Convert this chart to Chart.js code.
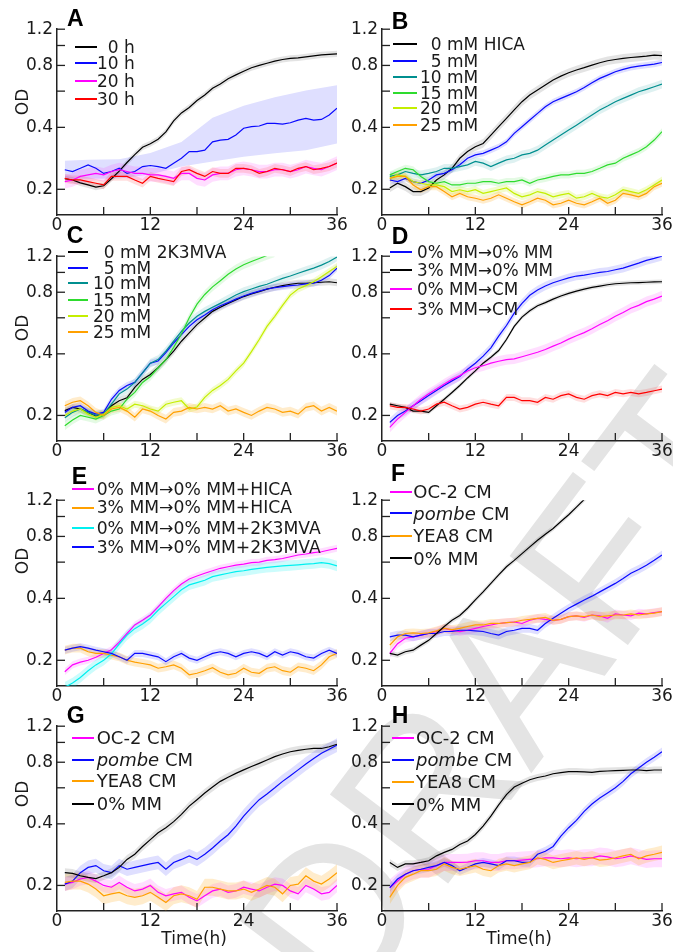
<!DOCTYPE html>
<html><head><meta charset="utf-8">
<script src="https://cdn.jsdelivr.net/npm/chart.js@4.4.1/dist/chart.umd.min.js"></script>
<style>
html,body{margin:0;padding:0;background:#fff;}
#wrap{position:relative;width:673px;height:952px;overflow:hidden;background:#fff;font-family:'DejaVu Sans',sans-serif;color:#1a1a1a;}
canvas{position:absolute;z-index:1;}
.lab{position:absolute;z-index:3;white-space:nowrap;}
.seg{position:absolute;z-index:4;height:0;border-top-width:2px;border-top-style:solid;}
.letter{position:absolute;z-index:3;font-family:'Liberation Sans',Arial,sans-serif;font-weight:bold;font-size:23px;line-height:23px;color:#000;}
.od{position:absolute;z-index:3;width:40px;height:20px;line-height:20px;text-align:center;font-size:17px;transform:rotate(-90deg);}
.xt{position:absolute;z-index:3;width:100px;text-align:center;font-size:17px;line-height:17px;}
#wm{position:absolute;z-index:0;font-family:'Liberation Sans',Arial,sans-serif;font-size:215px;line-height:215px;color:#e4e4e4;white-space:nowrap;transform-origin:center center;}
</style></head><body><div id="wrap"><div id="wm">DRAFT</div></div>
<script>
// ---------- data ----------
const T = [1,2,3,4,5,6,7,8,9,10,11,12,13,14,15,16,17,18,19,20,21,22,23,24,25,26,27,28,29,30,31,32,33,34,35,36];
const X_TICKS = [0,12,24,36];
const X_MARKS = [6,12,18,24,30,36];
const Y_TICKS = [0.2,0.4,0.6,0.8,1.0,1.2];
const Y_TICK_LABELS = ['0.2','0.4','','0.8','','1.2'];

// Panel A
const A_LABELS = ['\u20070 h','10 h','20 h','30 h'];
const A_0h  = [0.225,0.222,0.215,0.210,0.205,0.208,0.225,0.245,0.270,0.295,0.320,0.333,0.350,0.380,0.430,0.470,0.500,0.540,0.575,0.620,0.650,0.690,0.720,0.750,0.780,0.800,0.820,0.840,0.855,0.865,0.870,0.880,0.890,0.900,0.905,0.910];
const A_10h = [0.249,0.244,0.253,0.263,0.253,0.239,0.244,0.253,0.239,0.244,0.258,0.261,0.258,0.253,0.268,0.283,0.305,0.305,0.310,0.340,0.347,0.350,0.367,0.396,0.403,0.406,0.418,0.418,0.415,0.421,0.434,0.442,0.434,0.437,0.459,0.495];
const A_20h = [0.218,0.222,0.231,0.235,0.239,0.235,0.244,0.249,0.244,0.239,0.239,0.235,0.235,0.231,0.226,0.239,0.239,0.226,0.222,0.235,0.239,0.239,0.249,0.253,0.249,0.244,0.244,0.249,0.249,0.244,0.249,0.258,0.253,0.249,0.258,0.268];
const A_30h = [0.226,0.222,0.222,0.218,0.214,0.210,0.231,0.231,0.231,0.222,0.214,0.231,0.226,0.222,0.218,0.244,0.249,0.239,0.231,0.244,0.239,0.239,0.253,0.253,0.249,0.239,0.244,0.253,0.249,0.244,0.253,0.258,0.249,0.253,0.258,0.268];
const A_10h_BT = [1,4,8,12,16,20,24,28,32,36];
const A_10h_HI = [0.275,0.278,0.280,0.300,0.340,0.445,0.510,0.560,0.605,0.640];
const A_10h_LO = [0.225,0.225,0.226,0.236,0.258,0.273,0.288,0.299,0.310,0.334];
const A_SD = [0.035,0,0.08,0.05];

// Panel B
const B_LABELS = ['\u20070 mM HICA','\u20075 mM','10 mM','15 mM','20 mM','25 mM'];
const B_0  = [0.203,0.214,0.206,0.195,0.195,0.203,0.222,0.235,0.253,0.283,0.305,0.322,0.334,0.367,0.403,0.442,0.486,0.533,0.574,0.607,0.642,0.679,0.710,0.737,0.760,0.780,0.803,0.824,0.843,0.855,0.865,0.874,0.881,0.888,0.898,0.893];
const B_5  = [0.222,0.218,0.226,0.218,0.214,0.222,0.235,0.239,0.249,0.263,0.283,0.294,0.299,0.310,0.322,0.340,0.374,0.403,0.434,0.468,0.504,0.533,0.553,0.574,0.596,0.625,0.659,0.692,0.718,0.745,0.766,0.783,0.794,0.803,0.812,0.827];
const B_10 = [0.231,0.235,0.244,0.239,0.235,0.239,0.244,0.253,0.253,0.258,0.263,0.273,0.268,0.258,0.268,0.278,0.283,0.294,0.299,0.310,0.328,0.347,0.367,0.388,0.410,0.434,0.459,0.486,0.508,0.533,0.553,0.574,0.596,0.612,0.630,0.649];
const B_15 = [0.235,0.244,0.253,0.249,0.231,0.218,0.214,0.218,0.210,0.210,0.214,0.214,0.218,0.218,0.214,0.218,0.218,0.222,0.214,0.222,0.226,0.231,0.235,0.235,0.239,0.239,0.244,0.253,0.263,0.268,0.283,0.294,0.305,0.322,0.347,0.381];
const B_20 = [0.226,0.235,0.231,0.218,0.214,0.210,0.210,0.206,0.195,0.199,0.195,0.199,0.191,0.195,0.199,0.203,0.191,0.184,0.188,0.195,0.191,0.184,0.188,0.191,0.181,0.184,0.191,0.184,0.181,0.188,0.199,0.195,0.191,0.199,0.210,0.222];
const B_25 = [0.226,0.231,0.231,0.210,0.199,0.206,0.206,0.195,0.184,0.191,0.184,0.181,0.177,0.181,0.188,0.181,0.174,0.168,0.174,0.181,0.177,0.168,0.171,0.177,0.171,0.168,0.174,0.181,0.171,0.177,0.191,0.188,0.184,0.191,0.206,0.214];
const B_SD = [0.05,0.035,0.05,0.04,0.04,0.04];

// Panel C
const C_LABELS = ['\u20070 mM 2K3MVA','\u20075 mM','10 mM','15 mM','20 mM','25 mM'];
const C_0  = [0.211,0.219,0.215,0.207,0.199,0.203,0.223,0.236,0.244,0.274,0.300,0.317,0.342,0.375,0.412,0.461,0.506,0.556,0.599,0.645,0.676,0.706,0.734,0.762,0.785,0.806,0.828,0.846,0.862,0.875,0.885,0.885,0.890,0.895,0.900,0.890];
const C_5  = [0.207,0.219,0.223,0.210,0.203,0.207,0.240,0.265,0.280,0.290,0.323,0.360,0.369,0.405,0.452,0.497,0.545,0.587,0.620,0.657,0.687,0.712,0.740,0.767,0.790,0.810,0.830,0.843,0.852,0.862,0.868,0.878,0.885,0.915,0.965,1.050];
const C_10 = [0.195,0.207,0.215,0.207,0.200,0.203,0.227,0.255,0.269,0.290,0.323,0.360,0.375,0.412,0.461,0.515,0.566,0.610,0.645,0.675,0.706,0.740,0.775,0.805,0.830,0.855,0.875,0.905,0.935,0.960,0.990,1.020,1.050,1.085,1.130,1.190];
const C_15 = [0.178,0.190,0.200,0.196,0.192,0.200,0.210,0.215,0.240,0.259,0.290,0.310,0.342,0.375,0.430,0.500,0.600,0.700,0.780,0.850,0.910,0.980,1.040,1.090,1.130,1.170,1.210,1.250,null,null,null,null,null,null,null,null];
const C_20 = [0.200,0.210,0.215,0.203,0.196,0.203,0.219,0.223,0.215,0.227,0.223,0.215,0.210,0.227,0.232,0.236,0.215,0.220,0.245,0.265,0.280,0.300,0.330,0.360,0.410,0.470,0.545,0.610,0.690,0.775,0.830,0.862,0.900,0.952,1.010,1.070];
const C_25 = [0.223,0.232,0.236,0.223,0.207,0.200,0.215,0.219,0.210,0.196,0.215,0.210,0.200,0.192,0.207,0.210,0.219,0.215,0.219,0.215,0.223,0.210,0.215,0.207,0.200,0.210,0.219,0.215,0.207,0.210,0.203,0.219,0.223,0.210,0.219,0.210];
const C_SD = [0.04,0.04,0.05,0.05,0.04,0.05];

// Panel D
const D_LABELS = ['0% MM\u21920% MM','3% MM\u21920% MM','0% MM\u2192CM','3% MM\u2192CM'];
const D_00  = [0.185,0.200,0.210,0.223,0.236,0.250,0.265,0.280,0.295,0.310,0.336,0.360,0.390,0.428,0.488,0.550,0.632,0.706,0.773,0.820,0.858,0.890,0.915,0.940,0.960,0.970,0.985,1.000,1.010,1.030,1.050,1.080,1.110,1.145,1.170,1.200];
const D_30  = [0.227,0.223,0.219,0.210,0.210,0.207,0.223,0.240,0.259,0.280,0.305,0.330,0.360,0.385,0.415,0.470,0.545,0.605,0.650,0.687,0.712,0.740,0.767,0.790,0.810,0.828,0.845,0.857,0.870,0.880,0.885,0.890,0.892,0.895,0.898,0.900];
const D_0CM = [0.175,0.192,0.207,0.223,0.240,0.255,0.269,0.285,0.300,0.313,0.330,0.342,0.350,0.360,0.368,0.375,0.378,0.387,0.397,0.407,0.420,0.436,0.452,0.472,0.490,0.508,0.530,0.556,0.580,0.610,0.637,0.668,0.690,0.720,0.740,0.767];
const D_3CM = [0.223,0.219,0.219,0.215,0.210,0.215,0.227,0.232,0.223,0.215,0.219,0.227,0.232,0.227,0.223,0.245,0.245,0.236,0.236,0.232,0.245,0.240,0.250,0.255,0.245,0.240,0.250,0.255,0.250,0.259,0.255,0.259,0.255,0.259,0.264,0.269];
const D_SD = [0.05,0.025,0.06,0.04];

// Panel E
const E_LABELS = ['0% MM\u21920% MM+HICA','3% MM\u21920% MM+HICA','0% MM\u21920% MM+2K3MVA','3% MM\u21920% MM+2K3MVA'];
const E_0H = [0.176,0.190,0.196,0.200,0.207,0.216,0.225,0.245,0.270,0.297,0.313,0.332,0.364,0.400,0.436,0.470,0.497,0.514,0.530,0.545,0.560,0.570,0.580,0.587,0.597,0.600,0.612,0.617,0.625,0.637,0.650,0.657,0.667,0.674,0.687,0.700];
const E_3H = [0.224,0.229,0.229,0.220,0.216,0.216,0.212,0.208,0.200,0.196,0.193,0.190,0.183,0.186,0.190,0.183,0.170,0.173,0.178,0.184,0.175,0.170,0.173,0.183,0.175,0.173,0.183,0.186,0.178,0.175,0.186,0.183,0.178,0.190,0.208,0.216];
const E_0K = [0.148,0.155,0.165,0.178,0.190,0.200,0.215,0.240,0.265,0.285,0.300,0.320,0.350,0.378,0.408,0.440,0.465,0.477,0.490,0.510,0.520,0.530,0.540,0.545,0.553,0.560,0.566,0.570,0.575,0.578,0.582,0.587,0.590,0.597,0.590,0.575];
const E_3K = [0.224,0.229,0.233,0.229,0.224,0.220,0.216,0.208,0.200,0.216,0.216,0.212,0.208,0.197,0.208,0.216,0.205,0.200,0.208,0.216,0.220,0.216,0.208,0.216,0.220,0.216,0.208,0.220,0.212,0.220,0.216,0.208,0.205,0.216,0.224,0.216];
const E_SD = [0.04,0.05,0.06,0.04];

// Panels F, G, H
const FGH_LABELS = ['OC-2 CM','<i>pombe</i> CM','YEA8 CM','0% MM'];
const F_OC = [0.216,0.241,0.256,0.260,0.265,0.270,0.276,0.286,0.280,0.276,0.280,0.286,0.292,0.297,0.302,0.305,0.307,0.302,0.313,0.320,0.316,0.313,0.316,0.326,0.329,0.323,0.332,0.329,0.320,0.336,0.332,0.329,0.339,0.336,0.341,0.345];
const F_PO = [0.260,0.265,0.265,0.260,0.265,0.270,0.270,0.276,0.276,0.280,0.280,0.278,0.276,0.270,0.265,0.276,0.280,0.286,0.286,0.280,0.302,0.320,0.339,0.358,0.375,0.393,0.410,0.430,0.451,0.473,0.500,0.530,0.553,0.580,0.612,0.650];
const F_YE = [0.237,0.260,0.270,0.272,0.270,0.272,0.278,0.286,0.282,0.286,0.292,0.297,0.297,0.302,0.302,0.305,0.307,0.313,0.316,0.320,0.323,0.313,0.316,0.326,0.329,0.326,0.332,0.326,0.329,0.332,0.332,0.336,0.332,0.336,0.339,0.345];
const F_MM = [0.216,0.212,0.220,0.224,0.237,0.250,0.270,0.292,0.313,0.330,0.358,0.393,0.430,0.473,0.520,0.570,0.612,0.660,0.712,0.767,0.820,0.875,0.945,1.020,1.110,1.210,1.300,null,null,null,null,null,null,null,null,null];
const F_SD = [0.05,0.05,0.05,0.03];
const G_OC = [0.203,0.207,0.215,0.219,0.210,0.200,0.196,0.207,0.196,0.188,0.192,0.200,0.185,0.178,0.182,0.185,0.175,0.168,0.178,0.188,0.192,0.185,0.188,0.196,0.192,0.188,0.196,0.203,0.200,0.188,0.182,0.200,0.192,0.182,0.185,0.200];
const G_PO = [0.203,0.210,0.231,0.245,0.250,0.236,0.231,0.250,0.240,0.245,0.250,0.255,0.259,0.240,0.259,0.268,0.279,0.268,0.284,0.305,0.330,0.354,0.390,0.436,0.480,0.525,0.560,0.600,0.645,0.687,0.734,0.785,0.835,0.885,0.926,0.970];
const G_YE = [0.207,0.210,0.210,0.203,0.192,0.178,0.182,0.185,0.178,0.175,0.178,0.185,0.175,0.165,0.178,0.182,0.178,0.171,0.196,0.196,0.192,0.188,0.188,0.192,0.185,0.192,0.200,0.196,0.182,0.200,0.203,0.223,0.210,0.203,0.215,0.231];
const G_MM = [0.231,0.229,0.223,0.219,0.216,0.223,0.231,0.245,0.268,0.284,0.310,0.335,0.362,0.383,0.410,0.445,0.488,0.525,0.566,0.605,0.645,0.676,0.706,0.734,0.762,0.790,0.820,0.852,0.878,0.900,0.915,0.926,0.934,0.934,0.952,0.980];
const G_SD = [0.08,0.08,0.10,0.05];
const H_OC = [0.195,0.210,0.227,0.236,0.240,0.240,0.250,0.259,0.259,0.259,0.260,0.264,0.264,0.259,0.259,0.264,0.264,0.266,0.268,0.270,0.273,0.273,0.270,0.273,0.270,0.273,0.273,0.279,0.276,0.270,0.273,0.279,0.273,0.268,0.270,0.270];
const H_PO = [0.195,0.215,0.227,0.236,0.240,0.245,0.250,0.259,0.250,0.236,0.245,0.255,0.259,0.255,0.250,0.264,0.264,0.259,0.259,0.284,0.294,0.310,0.348,0.383,0.416,0.460,0.500,0.535,0.566,0.600,0.645,0.703,0.750,0.800,0.846,0.900];
const H_YE = [0.175,0.200,0.219,0.227,0.236,0.236,0.240,0.255,0.245,0.240,0.245,0.250,0.240,0.236,0.250,0.255,0.250,0.255,0.259,0.273,0.268,0.259,0.264,0.268,0.273,0.268,0.273,0.266,0.268,0.273,0.279,0.284,0.270,0.279,0.284,0.290];
const H_MM = [0.259,0.245,0.255,0.255,0.259,0.264,0.279,0.290,0.300,0.317,0.330,0.355,0.390,0.436,0.495,0.556,0.605,0.632,0.657,0.674,0.685,0.703,0.712,0.720,0.720,0.717,0.714,0.722,0.725,0.728,0.730,0.733,0.733,0.728,0.733,0.733];
const H_SD = [0.10,0.05,0.08,0.04];

// ---------- styles ----------
const COL = {black:'#000000', blue:'#0a0aff', magenta:'#ff00ff', red:'#ff0000', teal:'#008f8f', green:'#2edb2e', lime:'#c4ee00', orange:'#ffa000', cyan:'#00f0f0'};
const AX = '#222222', TXT = '#1a1a1a';
const FONT = {family:"'DejaVu Sans', sans-serif", size:17};
const WY = 57, PADT = 14, PADR = 16, HX = 26, TICK = 8;

const PANELS = [
 {letter:'A', rect:[57,29,337,215], lp:[67,10], od:101.7,
  series:[{v:A_0h,c:'black',sd:A_SD[0]},{v:A_10h,c:'blue',band:{t:A_10h_BT,hi:A_10h_HI,lo:A_10h_LO}},{v:A_20h,c:'magenta',sd:A_SD[2]},{v:A_30h,c:'red',sd:A_SD[3]}],
  labels:A_LABELS, lg:{seg:[75,97], tx:97, rows:[46.7,63.3,81,99], fs:17}},
 {letter:'B', rect:[382,29,662,215], lp:[391.7,12.5],
  series:[{v:B_0,c:'black'},{v:B_5,c:'blue'},{v:B_10,c:'teal'},{v:B_15,c:'green'},{v:B_20,c:'lime'},{v:B_25,c:'orange'}].map((s,i)=>({...s,sd:B_SD[i]})),
  labels:B_LABELS, lg:{seg:[393,417], tx:420, rows:[44.3,61,76.7,92.7,108.3,125], fs:17}},
 {letter:'C', rect:[57,256,337,441], lp:[66.7,226.7], od:327.5,
  series:[{v:C_0,c:'black'},{v:C_5,c:'blue'},{v:C_10,c:'teal'},{v:C_15,c:'green'},{v:C_20,c:'lime'},{v:C_25,c:'orange'}].map((s,i)=>({...s,sd:C_SD[i]})),
  labels:C_LABELS, lg:{seg:[68,88], tx:93, rows:[251.7,267.7,283.3,300,316,331.7], fs:17}},
 {letter:'D', rect:[382,256,662,441], lp:[391.7,228],
  series:[{v:D_00,c:'blue'},{v:D_30,c:'black'},{v:D_0CM,c:'magenta'},{v:D_3CM,c:'red'}].map((s,i)=>({...s,sd:D_SD[i]})),
  labels:D_LABELS, lg:{seg:[390,412], tx:417, rows:[251.7,270,289.3,309.3], fs:16.8}},
 {letter:'E', rect:[57,500,337,686], lp:[71.7,468], od:560.8,
  series:[{v:E_0H,c:'magenta'},{v:E_3H,c:'orange'},{v:E_0K,c:'cyan'},{v:E_3K,c:'blue'}].map((s,i)=>({...s,sd:E_SD[i]})),
  labels:E_LABELS, lg:{seg:[71.7,93.3], tx:96.7, rows:[489.3,507.7,528.3,547.3], fs:17.2}},
 {letter:'F', rect:[382,500,662,686], lp:[391,465],
  series:[{v:F_OC,c:'magenta'},{v:F_PO,c:'blue'},{v:F_YE,c:'orange'},{v:F_MM,c:'black'}].map((s,i)=>({...s,sd:F_SD[i]})),
  labels:FGH_LABELS, lg:{seg:[390,412], tx:413.3, rows:[491.7,513.3,536,558.3], fs:18}},
 {letter:'G', rect:[57,726,337,911], lp:[66.7,706.7], od:794, time:194.2,
  series:[{v:G_OC,c:'magenta'},{v:G_PO,c:'blue'},{v:G_YE,c:'orange'},{v:G_MM,c:'black'}].map((s,i)=>({...s,sd:G_SD[i]})),
  labels:FGH_LABELS, lg:{seg:[71.7,93.3], tx:96.7, rows:[737.7,760,781,804], fs:18}},
 {letter:'H', rect:[382,726,662,911], lp:[391.7,706.7], time:519.2,
  series:[{v:H_OC,c:'magenta'},{v:H_PO,c:'blue'},{v:H_YE,c:'orange'},{v:H_MM,c:'black'}].map((s,i)=>({...s,sd:H_SD[i]})),
  labels:FGH_LABELS, lg:{seg:[391.7,413.3], tx:416, rows:[737.7,760,781.7,804.3], fs:18}}
];

function rgba(hex,a){const n=parseInt(hex.slice(1),16);return 'rgba('+(n>>16)+','+((n>>8)&255)+','+(n&255)+','+a+')';}

const tickPlugin = {
  id:'innerTicks',
  afterDraw(chart){
    const {ctx, chartArea:{left,bottom}, scales:{x,y}} = chart;
    ctx.save(); ctx.strokeStyle=AX; ctx.lineWidth=1.3;
    Y_TICKS.forEach(v=>{const py=y.getPixelForValue(v); ctx.beginPath(); ctx.moveTo(left,py); ctx.lineTo(left+TICK,py); ctx.stroke();});
    X_MARKS.forEach(v=>{const px=x.getPixelForValue(v); ctx.beginPath(); ctx.moveTo(px,bottom); ctx.lineTo(px,bottom-TICK); ctx.stroke();});
    ctx.restore();
  }
};

const wrap = document.getElementById('wrap');
function addDiv(cls, html, style){const d=document.createElement('div'); d.className=cls; d.innerHTML=html; Object.assign(d.style, style); wrap.appendChild(d); return d;}

PANELS.forEach(p=>{
  const [x0,y0,x1,y1]=p.rect;
  const cv=document.createElement('canvas');
  const w=(x1-x0)+WY+PADR, h=(y1-y0)+PADT+HX;
  cv.width=w; cv.height=h;
  Object.assign(cv.style,{left:(x0-WY)+'px', top:(y0-PADT)+'px', width:w+'px', height:h+'px'});
  wrap.appendChild(cv);
  const ds=[];
  p.series.forEach((s,i)=>{
    const col=COL[s.c];
    let bt, hi, lo;
    if (s.band){ bt=s.band.t; hi=s.band.hi; lo=s.band.lo; }
    else { bt=T; hi=s.v.map(v=>v==null?null:v*(1+s.sd)); lo=s.v.map(v=>v==null?null:v/(1+s.sd)); }
    const a = s.c==='black'?0.11:(s.c==='lime'||s.c==='cyan'||s.c==='orange'?0.2:0.13);
    ds.push({data:bt.map((t,k)=>({x:t,y:hi[k]})), borderWidth:0, borderColor:'rgba(0,0,0,0)', pointRadius:0, fill:false, order:300-i*2});
    ds.push({data:bt.map((t,k)=>({x:t,y:lo[k]})), borderWidth:0, borderColor:'rgba(0,0,0,0)', pointRadius:0, fill:'-1', backgroundColor:rgba(col,a), order:299-i*2});
  });
  p.series.forEach((s,i)=>{
    ds.push({data:T.map((t,k)=>({x:t,y:s.v[k]})), borderColor:COL[s.c], borderWidth:1.2, pointRadius:0, fill:false, tension:0, order:100-i});
  });
  new Chart(cv,{
    type:'line',
    data:{datasets:ds},
    options:{
      responsive:false, animation:false, devicePixelRatio:1, events:[],
      layout:{padding:{left:0,right:PADR,top:PADT,bottom:0}},
      plugins:{legend:{display:false}, tooltip:{enabled:false}},
      scales:{
        x:{type:'linear', min:0, max:36,
           afterBuildTicks:s=>{s.ticks=X_TICKS.map(v=>({value:v}));},
           ticks:{font:FONT, color:TXT, padding:0, maxRotation:0, autoSkip:false, callback:v=>String(v)},
           grid:{display:false, drawTicks:false}, border:{display:true, color:AX, width:1.5},
           afterFit:s=>{s.height=HX;}},
        y:{type:'logarithmic', min:0.15, max:1.2,
           afterBuildTicks:s=>{s.ticks=Y_TICKS.map(v=>({value:v}));},
           ticks:{font:FONT, color:TXT, padding:4, autoSkip:false, callback:(v,i)=>Y_TICK_LABELS[i]},
           grid:{display:false, drawTicks:false}, border:{display:true, color:AX, width:1.5},
           afterFit:s=>{s.width=WY;}}
      }
    },
    plugins:[tickPlugin]
  });
  // legend
  const lg=p.lg;
  p.series.forEach((s,i)=>{
    const ry=lg.rows[i];
    addDiv('seg','',{left:Math.round(lg.seg[0])+'px', top:Math.round(ry-1)+'px', width:Math.round(lg.seg[1]-lg.seg[0])+'px', borderTopColor:COL[s.c]});
    addDiv('lab',p.labels[i],{left:lg.tx+'px', top:(ry-0.482*lg.fs)+'px', fontSize:lg.fs+'px', lineHeight:lg.fs+'px'});
  });
  addDiv('letter',p.letter,{left:p.lp[0]+'px', top:(p.lp[1]-3)+'px'});
  if (p.od) addDiv('od','OD',{left:(21.7-20)+'px', top:(p.od-10)+'px'});
  if (p.time) addDiv('xt','Time(h)',{left:(p.time-50)+'px', top:'929.7px'});
});

// watermark
const wm=document.getElementById('wm');
const ww=wm.offsetWidth, wh=wm.offsetHeight;
Object.assign(wm.style,{left:(500-ww/2)+'px', top:(690-wh/2)+'px', transform:'rotate(-53deg)'});
</script>
</body></html>
